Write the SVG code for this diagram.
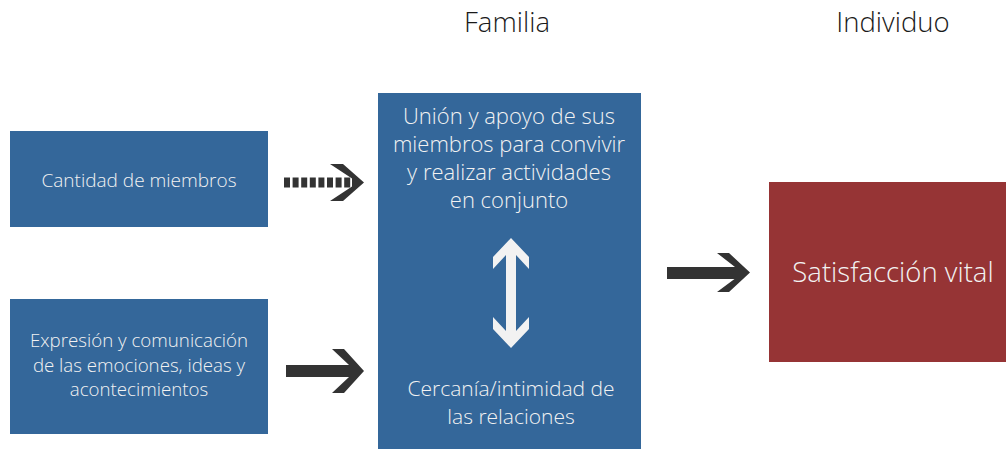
<svg xmlns="http://www.w3.org/2000/svg" width="1006" height="449" viewBox="0 0 1006 449">
<style>
.box{fill:#34679a}
.red{fill:#963435}
.t{font-family:"Open Sans","Noto Sans","Liberation Sans",sans-serif;font-weight:300;fill:#f2f2f2;text-anchor:middle}
.title{font-family:"Open Sans","Noto Sans","Liberation Sans",sans-serif;font-weight:300;fill:#1a1a1a;text-anchor:middle;font-size:27.5px}
.arr{fill:#333333}
</style>
<rect width="1006" height="449" fill="#ffffff"/>
<text class="title" x="507" y="32">Familia</text>
<text class="title" x="893" y="32">Individuo</text>
<g id="node-cantidad">
<rect class="box" x="10" y="131" width="258" height="96"/>
<text class="t" x="139" y="187" font-size="19">Cantidad de miembros</text>
</g>
<g id="node-expresion">
<rect class="box" x="10" y="299" width="258" height="135"/>
<text class="t" x="139" y="347" font-size="18.7">Expresión y comunicación</text>
<text class="t" x="139" y="372" font-size="18.7">de las emociones, ideas y</text>
<text class="t" x="139" y="396" font-size="18.7">acontecimientos</text>
</g>
<g id="node-familia">
<rect class="box" x="378" y="93" width="263" height="356"/>
<text class="t" x="509" y="124" font-size="22">Unión y apoyo de sus</text>
<text class="t" x="509" y="152" font-size="22">miembros para convivir</text>
<text class="t" x="509" y="180" font-size="22">y realizar actividades</text>
<text class="t" x="509" y="208" font-size="22">en conjunto</text>
<polygon fill="#f2f2f2" points="511,238 529,257 529,269 516,255 516,331 529,317 529,329 511,348 493,329 493,317 506,331 506,255 493,269 493,257"/>
<text class="t" x="511" y="396" font-size="21">Cercanía/intimidad de</text>
<text class="t" x="511" y="424" font-size="21">las relaciones</text>
</g>
<g id="node-satisfaccion">
<rect class="red" x="769" y="182" width="237" height="180"/>
<text class="t" x="893" y="282" font-size="27.5">Satisfacción vital</text>
</g>
<g id="connectors">
<line x1="284" y1="182.5" x2="351" y2="182.5" stroke="#333333" stroke-width="10" stroke-dasharray="6,2.6"/>
<polygon class="arr" points="330,164 343,164 364,182.5 343,201 330,201 352,186.5 352,178.5"/>
<polygon class="arr" points="286,365 349,365 332,349 344,349 364,371 344,393 332,393 349,377 286,377"/>
<polygon class="arr" points="667,267 735,267 717,253 729,253 750,272.5 729,292 717,292 734.5,279 667,279"/>
</g>
</svg>
